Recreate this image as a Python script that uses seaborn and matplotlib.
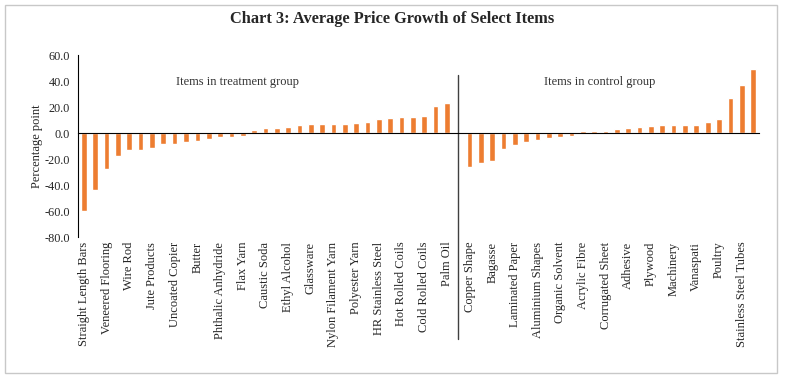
import numpy as np
import pandas as pd
import matplotlib.pyplot as plt
import matplotlib.transforms as mtransforms
from matplotlib.patches import Rectangle
import seaborn as sns

# Items in treatment group (only every other item is labelled on the axis)
treatment_labels = ['Straight Length Bars', 'Veneered Flooring', 'Wire Rod', 'Jute Products',
                    'Uncoated Copier', 'Butter', 'Phthalic Anhydride', 'Flax Yarn', 'Caustic Soda',
                    'Ethyl Alcohol', 'Glassware', 'Nylon Filament Yarn', 'Polyester Yarn',
                    'HR Stainless Steel', 'Hot Rolled Coils', 'Cold Rolled Coils', 'Palm Oil']
treatment_values = [-59.7, -43.7, -27.6, -17.3, -12.9, -12.7, -11.4, -8.3, -8.0, -6.7, -6.2,
                    -4.3, -3.0, -2.8, -2.4, 2.1, 4.0, 4.2, 4.7, 6.0, 6.8, 7.2, 7.2, 7.2,
                    8.1, 8.5, 10.6, 12.0, 12.2, 12.4, 12.8, 21.1, 23.2]

# Items in control group
control_labels = ['Copper Shape', 'Bagasse', 'Laminated Paper', 'Aluminium Shapes',
                  'Organic Solvent', 'Acrylic Fibre', 'Corrugated Sheet', 'Adhesive',
                  'Plywood', 'Machinery', 'Vanaspati', 'Poultry', 'Stainless Steel Tubes']
control_values = [-25.8, -22.9, -21.4, -12.6, -9.3, -6.5, -5.5, -3.8, -3.2, -2.2, 2.0, 2.0,
                  2.0, 2.8, 4.1, 4.9, 5.4, 6.2, 6.2, 6.2, 6.5, 8.8, 10.9, 27.1, 37.2, 49.6]

y_ticks = [-80, -60, -40, -20, 0, 20, 40, 60]

sns.set_style('white')
plt.rcParams['font.family'] = ['Liberation Serif', 'DejaVu Serif']

# treatment bars sit at slots 0..32, one empty slot for the divider, control after it
n_t = len(treatment_values)
n_c = len(control_values)
t_pos = list(range(n_t))
c_pos = list(range(n_t + 1, n_t + 1 + n_c))
n_slots = n_t + 1 + n_c
df = pd.DataFrame({'pos': t_pos + c_pos, 'value': treatment_values + control_values})

fig = plt.figure(figsize=(7.85, 3.8), dpi=100)
ax = fig.add_axes([0.0997, 0.376, 0.8668, 0.479])

sns.barplot(data=df, x='pos', y='value', native_scale=True, color='#ED7D31',
            saturation=1, width=0.5, ax=ax)

ax.set_xlim(-0.5, n_slots - 0.5)
ax.set_ylim(-80, 60)
ax.set_yticks(y_ticks)
ax.set_yticklabels([f'{v:.1f}' for v in y_ticks], fontsize=8.8)
ax.set_ylabel('Percentage point', fontsize=9, labelpad=1)
ax.set_xlabel('')

# category axis crosses at zero, ticks on category boundaries
ax.spines['top'].set_visible(False)
ax.spines['right'].set_visible(False)
ax.spines['bottom'].set_position(('data', 0))
ax.spines['bottom'].set_color('black')
ax.spines['left'].set_color('black')
ax.set_xticks(np.arange(-0.5, n_slots, 1))
ax.set_xticklabels([])
ax.tick_params(axis='x', direction='out', length=4, width=0.8, color='black')
ax.tick_params(axis='y', direction='out', length=4, width=0.8, color='black', pad=2)

# category labels below the plot area
trans = mtransforms.blended_transform_factory(ax.transData, ax.transAxes)
for i, lab in enumerate(treatment_labels):
    ax.text(t_pos[2 * i], -0.025, lab, rotation=90, ha='center', va='top',
            fontsize=9, transform=trans)
for i, lab in enumerate(control_labels):
    ax.text(c_pos[2 * i], -0.025, lab, rotation=90, ha='center', va='top',
            fontsize=9, transform=trans)

# divider between the two groups
ax.plot([n_t, n_t], [0.89, -0.56], color='#404040', lw=1, transform=trans, clip_on=False)

ax.text(13.5, 0.85, 'Items in treatment group', ha='center', va='center',
        fontsize=9, color='#333333', transform=trans)
ax.text(45.5, 0.85, 'Items in control group', ha='center', va='center',
        fontsize=9, color='#333333', transform=trans)

fig.suptitle('Chart 3: Average Price Growth of Select Items', fontsize=11.8,
             fontweight='bold', y=0.972)

fig.patches.append(Rectangle((0.006, 0.018), 0.984, 0.97, transform=fig.transFigure,
                             fill=False, edgecolor='#c8c8c8', lw=1))

plt.savefig('out.png', dpi=100)
